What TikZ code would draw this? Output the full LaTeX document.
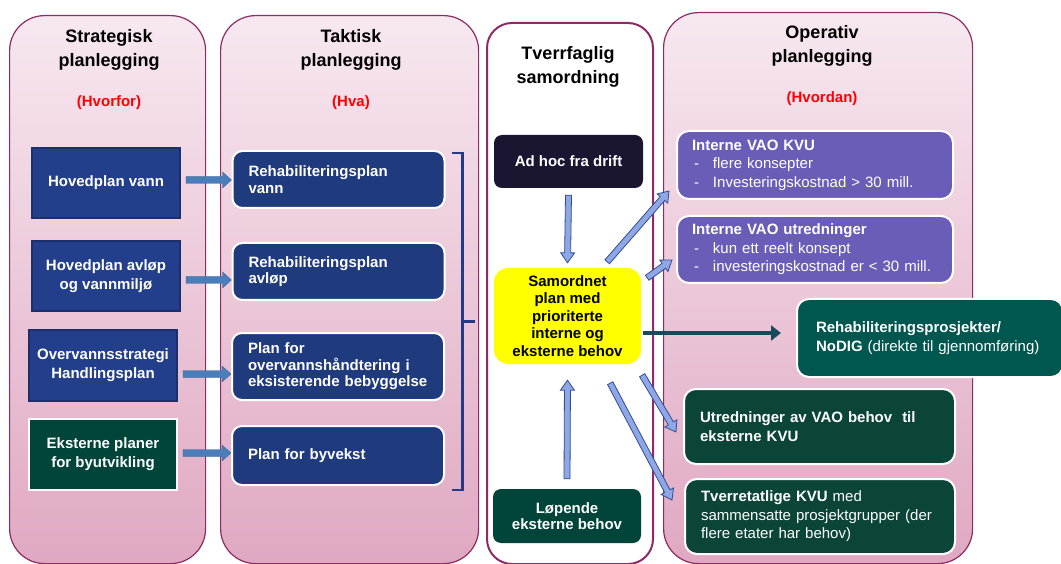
\documentclass[tikz,border=0pt]{standalone}
\usepackage{fontspec}
\setmainfont{Liberation Sans}
\usetikzlibrary{calc,arrows.meta}
\definecolor{colborder}{HTML}{8E2A64}
\definecolor{pinktop}{HTML}{F7E8F0}
\definecolor{pinkbot}{HTML}{E0A8C2}
\definecolor{navy1}{HTML}{233F8C}
\definecolor{navy1b}{HTML}{1B2F6B}
\definecolor{navy2}{HTML}{1F3A7D}
\definecolor{dgreen}{HTML}{00443A}
\definecolor{purp}{HTML}{6A5DB8}
\definecolor{teal1}{HTML}{00574F}
\definecolor{dgreen2}{HTML}{0B4538}
\definecolor{adhoc}{HTML}{1A1632}
\definecolor{yell}{HTML}{FFFF00}
\definecolor{arrA}{HTML}{4A7EBB}
\definecolor{arrBfill}{HTML}{8FA8E3}
\definecolor{arrBline}{HTML}{2F4C9A}
\definecolor{tealline}{HTML}{174B5C}
\definecolor{brk}{HTML}{253A85}
\definecolor{redlab}{HTML}{FF0000}
\newcommand\barrow[6]{%
  \coordinate (ba-c) at ($(#6)!#4!(#5)$);
  \draw[#1] ($(#5)!#2!90:(#6)$) -- ($(ba-c)!#2!90:(#6)$) -- ($(ba-c)!#3!90:(#6)$) -- (#6)
    -- ($(ba-c)!#3!-90:(#6)$) -- ($(ba-c)!#2!-90:(#6)$) -- ($(#5)!#2!-90:(#6)$) -- cycle;}
\newcommand\dsh{\hspace*{2pt}\makebox[19pt][l]{-}}
\tikzset{
  column/.style={rounded corners=35pt, draw=colborder, line width=1.2pt,
    top color=pinktop, bottom color=pinkbot, anchor=north west, inner sep=0pt},
  title/.style={font=\fontsize{18}{24}\selectfont\bfseries, align=center, text=black},
  redl/.style={font=\fontsize{15}{18}\selectfont\bfseries, text=redlab},
  sq/.style={draw=navy1b, line width=2pt, fill=navy1, text=white,
    font=\fontsize{15}{19}\selectfont\bfseries, align=center, minimum width=148pt, inner sep=0pt},
  rb/.style={draw=white, line width=2pt, fill=navy2, rounded corners=10pt, text=white,
    font=\fontsize{15}{16.5}\selectfont\bfseries, align=left, inner xsep=16pt, text width=180pt},
  midbox/.style={rounded corners=8pt, text=white, font=\fontsize{15}{16}\selectfont\bfseries,
    align=center, inner sep=0pt},
  opbox/.style={draw=white, line width=2pt, rounded corners=12pt, text=white,
    font=\fontsize{15}{18.5}\selectfont, align=left, inner ysep=0pt},
  barA/.style={fill=arrA, draw=arrA!80!black, line width=0.3pt},
  barB/.style={fill=arrBfill, draw=arrBline, line width=0.8pt},
  brkline/.style={brk, line width=2.2pt},
}
\begin{document}
\begin{tikzpicture}[x=1pt,y=-1pt]
\useasboundingbox (0,0) rectangle (1061,564);
% columns
\node[column, minimum width=196pt, minimum height=548pt] (c1) at (9,15) {};
\node[column, minimum width=258pt, minimum height=548pt] (c2) at (220,15) {};
\node[draw=colborder, line width=2pt, fill=white, rounded corners=25pt, anchor=north west,
  minimum width=166pt, minimum height=541pt, inner sep=0pt] (c3) at (486,22) {};
\node[column, minimum width=309pt, minimum height=551pt] (c4) at (663,12) {};
% titles
\node[title] (t1) at (109,50) {Strategisk\\planlegging};
\node[redl] (r1) at (109,103) {(Hvorfor)};
\node[title] (t2) at (351,50) {Taktisk\\planlegging};
\node[redl] (r2) at (351,103) {(Hva)};
\node[title] (t3) at (568,66.5) {Tverrfaglig\\samordning};
\node[title] (t4) at (822,46) {Operativ\\planlegging};
\node[redl] (r4) at (822,99) {(Hvordan)};
% column 1
\node[sq, minimum height=70pt] (hv) at (106,183) {Hovedplan vann};
\node[sq, minimum height=70pt] (ha) at (106,276) {Hovedplan avløp\\og vannmiljø};
\node[sq, minimum height=71pt] (ov) at (103,365.5) {Overvannsstrategi\\Handlingsplan};
\node[sq, minimum height=71pt, fill=dgreen, draw=white] (ek) at (103,454.5) {Eksterne planer\\for byutvikling};
% column 2
\node[rb, minimum height=57pt] (rv) at (338.5,179.5) {Rehabiliteringsplan\\vann};
\node[rb, minimum height=57pt] (ra) at (338.5,271.5) {Rehabiliteringsplan\\avløp};
\node[rb, minimum height=67pt] (ro) at (338,366.5) {Plan for\\overvannshåndtering i\\eksisterende bebyggelse};
\node[rb, minimum height=59pt] (rb4) at (338,455.5) {Plan for byvekst};
% bracket
\draw[brkline] ([xshift=6pt,yshift=-3pt]rv.north east) coordinate (bk1) -- ++(11,0) coordinate (bk2)
  -- (bk2 |- rb4.south) -- ++(0,4) coordinate (bk3) -- ++(-11,0);
\draw[brkline] ($(bk2)!0.5!(bk3)$) -- ++(12,0);
% column 3
\node[midbox, fill=adhoc, minimum width=149pt, minimum height=53pt] (adh) at (568.5,161.5) {Ad hoc fra drift};
\node[midbox, fill=yell, text=black, rounded corners=14pt, minimum width=147pt, minimum height=96pt,
  font=\fontsize{15}{17.5}\selectfont\bfseries] (sam) at (567.5,316) {Samordnet\\plan med\\prioriterte\\interne og\\eksterne behov};
\node[midbox, fill=dgreen, minimum width=148pt, minimum height=54pt] (lop) at (567,516) {Løpende\\eksterne behov};
% column 4
\node[opbox, fill=purp, inner xsep=15pt, text width=246pt, minimum height=68pt] (k1) at (815,165)
  {\textbf{Interne VAO KVU}\\\dsh flere konsepter\\\dsh Investeringskostnad > 30 mill.};
\node[opbox, fill=purp, inner xsep=15pt, text width=246pt, minimum height=67pt] (k2) at (815,249.5)
  {\textbf{Interne VAO utredninger}\\\dsh kun ett reelt konsept\\\dsh investeringskostnad er < 30 mill.};
\node[opbox, fill=teal1, inner xsep=19pt, text width=228pt, minimum height=78pt] (rp) at (930,338)
  {\textbf{Rehabiliteringsprosjekter/}\\\textbf{NoDIG} (direkte til gjennomføring)};
\node[opbox, fill=dgreen2, inner xsep=16pt, text width=239pt, minimum height=75pt] (ut) at (819.5,426.5)
  {\textbf{Utredninger av VAO behov\ \ til}\\\textbf{eksterne KVU}};
\node[opbox, fill=dgreen2, inner xsep=16pt, text width=238pt, minimum height=75pt] (tv) at (820,516.5)
  {\textbf{Tverretatlige KVU} med\\sammensatte prosjektgrupper (der\\flere etater har behov)};
% arrows column 1 -> column 2
\path (hv.east) ++(5,-3) coordinate (a1s);
\path (rv.west |- a1s) coordinate (a1e);
\barrow{barA}{3.5pt}{8pt}{9pt}{a1s}{a1e}
\path (ha.east) ++(5,4) coordinate (a2s);
\path (ra.west |- a2s) coordinate (a2e);
\barrow{barA}{3.5pt}{8pt}{9pt}{a2s}{a2e}
\path (ov.east) ++(5,8.5) coordinate (a3s);
\path (ro.west |- a3s) coordinate (a3e);
\barrow{barA}{3.5pt}{8pt}{9pt}{a3s}{a3e}
\path (ek.east) ++(5,-1.5) coordinate (a4s);
\path (rb4.west |- a4s) coordinate (a4e);
\barrow{barA}{3.5pt}{8pt}{9pt}{a4s}{a4e}
% arrows column 3
\path (adh.south) ++(0,7) coordinate (dns);
\path (sam.north) ++(0,-5) coordinate (dne);
\barrow{barB}{3pt}{7pt}{10pt}{dns}{dne}
\path (lop.north) ++(0,-10) coordinate (ups);
\path (sam.south) ++(0,16) coordinate (upe);
\barrow{barB}{3pt}{7pt}{10pt}{ups}{upe}
\path (sam.north east) ++(-34,-6) coordinate (d1s);
\path (k1.south west) ++(-7,-9) coordinate (d1e);
\barrow{barB}{3pt}{7pt}{10pt}{d1s}{d1e}
\path (sam.north east) ++(6,10) coordinate (d2s);
\path (k2.south west) ++(-4,-24) coordinate (d2e);
\barrow{barB}{3pt}{7pt}{10pt}{d2s}{d2e}
\path (sam.south east) ++(1,11) coordinate (d3s);
\path (ut.west) ++(-7,5.5) coordinate (d3e);
\barrow{barB}{3pt}{7pt}{10pt}{d3s}{d3e}
\path (sam.south east) ++(-31,19) coordinate (d4s);
\path (tv.west) ++(-12,-16.5) coordinate (d4e);
\barrow{barB}{3pt}{7pt}{10pt}{d4s}{d4e}
% teal connector
\path (sam.east) ++(2,17) coordinate (ts);
\path (rp.west) ++(-15,-5) coordinate (te);
\draw[tealline, line width=4.5pt, -{Triangle[length=10pt,width=15pt]}] (ts) -- (te);
\end{tikzpicture}
\end{document}
